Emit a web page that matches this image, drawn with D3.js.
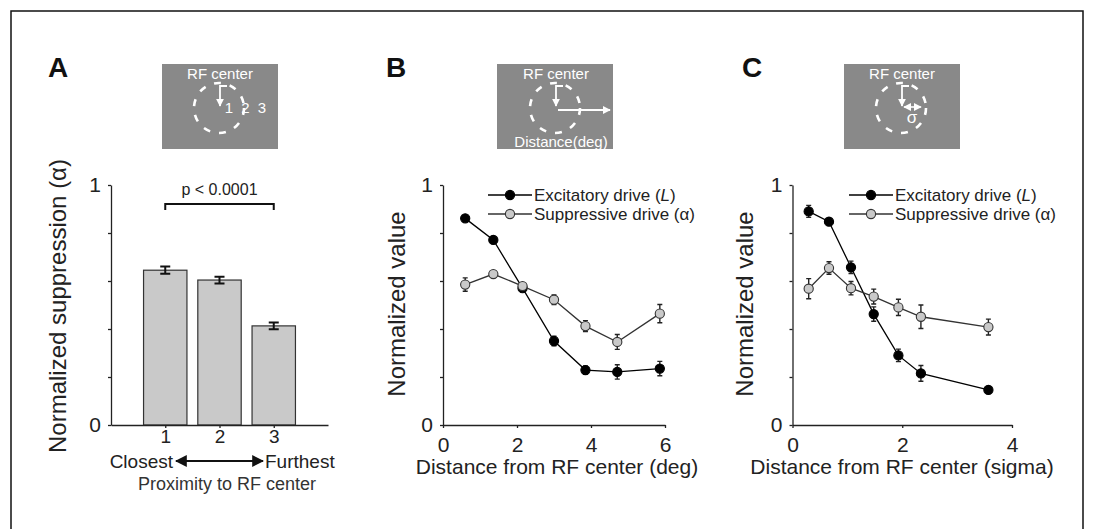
<html lang="en">
  <head>
    <meta charset="UTF-8" />
    <title>Surround suppression</title>
    <script src="https://d3js.org/d3.v7.min.js"></script>
  </head>
  <body>
    <style>
      body {
        margin: 0;
        padding: 0;
        background: #ffffff;
        font-family: "Liberation Sans", Arial, Helvetica, sans-serif;
      }
      svg {
        display: block;
      }
      .axis path,
      .axis line {
        stroke: #222;
        stroke-width: 1.3;
      }
      .axis text {
        font-family: "Liberation Sans", Arial, sans-serif;
        font-size: 21px;
        fill: #222;
      }
      .axis.small text {
        font-size: 19px;
      }
    </style>
    <script>
      const w = 1098;
      const h = 529;

      // panel A: bars
      const barCats = [1, 2, 3];
      const barVals = [0.645, 0.604, 0.413];
      const barErr = [0.015, 0.014, 0.014];

      // panel B: distance in degrees
      const distDeg = [0.6, 1.36, 2.15, 3.0, 3.85, 4.71, 5.86];
      const excDeg = [0.861, 0.771, 0.57, 0.35, 0.229, 0.221, 0.235];
      const excDegErr = [0.012, 0.01, 0.01, 0.02, 0.017, 0.03, 0.03];
      const supDeg = [0.585, 0.629, 0.579, 0.522, 0.412, 0.346, 0.464];
      const supDegErr = [0.028, 0.013, 0.013, 0.02, 0.023, 0.031, 0.038];

      // panel C: distance in sigma
      const distSig = [0.295, 0.665, 1.066, 1.48, 1.93, 2.34, 3.57];
      const excSig = [0.89, 0.847, 0.657, 0.462, 0.29, 0.215, 0.146];
      const excSigErr = [0.025, 0.012, 0.026, 0.03, 0.026, 0.033, 0.013];
      const supSig = [0.568, 0.654, 0.57, 0.535, 0.49, 0.451, 0.408];
      const supSigErr = [0.042, 0.026, 0.028, 0.031, 0.034, 0.049, 0.033];

      const yTicks = [0, 0.2, 0.4, 0.6, 0.8, 1];

      const svg = d3
        .select("body")
        .append("svg")
        .attr("width", w)
        .attr("height", h);

      const defs = svg.append("defs");
      const addMarker = (id, color, size) => {
        defs
          .append("marker")
          .attr("id", id)
          .attr("viewBox", "0 0 10 10")
          .attr("refX", 9)
          .attr("refY", 5)
          .attr("markerUnits", "userSpaceOnUse")
          .attr("markerWidth", size)
          .attr("markerHeight", size)
          .attr("orient", "auto-start-reverse")
          .append("path")
          .attr("d", "M0,0 L10,5 L0,10 z")
          .attr("fill", color);
      };
      addMarker("arrowBlack", "#111", 12);
      addMarker("arrowWhite", "#fff", 8);

      // frame
      svg
        .append("path")
        .attr("d", `M11,${h + 5} V11 H1083 V${h + 5}`)
        .attr("fill", "none")
        .attr("stroke", "#111")
        .attr("stroke-width", 1.5);

      const yScale = d3.scaleLinear().domain([0, 1]).range([425, 185]);

      const drawYAxis = (x0) => {
        svg
          .append("g")
          .attr("class", "axis")
          .attr("transform", `translate(${x0},0)`)
          .call(
            d3
              .axisLeft(yScale)
              .tickValues(yTicks)
              .tickSize(3)
              .tickSizeOuter(0)
              .tickPadding(7)
              .tickFormat((d) => (d === 0 || d === 1 ? d3.format("d")(d) : ""))
          );
      };

      const drawXAxis = (xScale, ticks, pad, cls) => {
        svg
          .append("g")
          .attr("class", "axis " + (cls || ""))
          .attr("transform", `translate(0,${yScale(0)})`)
          .call(
            d3
              .axisBottom(xScale)
              .tickValues(ticks)
              .tickSize(3)
              .tickSizeOuter(0)
              .tickPadding(pad)
              .tickFormat(d3.format("d"))
          );
      };

      const panelLabel = (txt, x) => {
        svg
          .append("text")
          .attr("x", x)
          .attr("y", 77)
          .attr("font-size", 28)
          .attr("font-weight", "bold")
          .attr("fill", "#111")
          .text(txt);
      };

      const yLabel = (txt, cx, cy) => {
        svg
          .append("text")
          .attr("transform", `translate(${cx},${cy}) rotate(-90)`)
          .attr("text-anchor", "middle")
          .attr("dy", "0.35em")
          .attr("font-size", 24)
          .attr("fill", "#222")
          .text(txt);
      };

      const xLabel = (txt, cx, y) => {
        svg
          .append("text")
          .attr("x", cx)
          .attr("y", y)
          .attr("text-anchor", "middle")
          .attr("font-size", 21)
          .attr("fill", "#222")
          .text(txt);
      };

      // inset stimulus cartoon
      const inset = (x, cx, extra) => {
        const g = svg.append("g");
        g.append("rect")
          .attr("x", x)
          .attr("y", 64)
          .attr("width", 116)
          .attr("height", 85)
          .attr("fill", "#898989");
        g.append("circle")
          .attr("cx", cx)
          .attr("cy", 108)
          .attr("r", 25)
          .attr("fill", "none")
          .attr("stroke", "#fff")
          .attr("stroke-width", 2.6)
          .attr("stroke-dasharray", "7 9");
        g.append("text")
          .attr("x", cx + 1)
          .attr("y", 79)
          .attr("text-anchor", "middle")
          .attr("font-size", 15)
          .attr("fill", "#fff")
          .text("RF center");
        g.append("path")
          .attr("d", `M${cx + 8},86 H${cx + 1} V106`)
          .attr("fill", "none")
          .attr("stroke", "#fff")
          .attr("stroke-width", 1.8)
          .attr("marker-end", "url(#arrowWhite)");
        extra(g);
      };

      // ---------- panel A ----------
      const xA = d3.scaleLinear().domain([0, 4]).range([111, 328]);
      panelLabel("A", 48);
      inset(162, 219, (g) => {
        ["1", "2", "3"].forEach((t, i) => {
          g.append("text")
            .attr("x", 229 + i * 16.5)
            .attr("y", 113)
            .attr("text-anchor", "middle")
            .attr("font-size", 15)
            .attr("fill", "#fff")
            .text(t);
        });
      });

      const barW = xA(0.8) - xA(0);
      svg
        .append("g")
        .selectAll("rect")
        .data(barCats)
        .join("rect")
        .attr("x", (d) => xA(d) - barW / 2)
        .attr("y", (d, i) => yScale(barVals[i]))
        .attr("width", barW)
        .attr("height", (d, i) => yScale(0) - yScale(barVals[i]))
        .attr("fill", "#c9c9c9")
        .attr("stroke", "#333")
        .attr("stroke-width", 1.2);

      const errA = svg.append("g").attr("stroke", "#111").attr("stroke-width", 2);
      barCats.forEach((c, i) => {
        const x = xA(c);
        const y1 = yScale(barVals[i] - barErr[i]);
        const y2 = yScale(barVals[i] + barErr[i]);
        errA.append("path").attr("d", `M${x},${y1} V${y2} M${x - 5},${y1} H${x + 5} M${x - 5},${y2} H${x + 5}`);
      });

      drawYAxis(xA(0));
      drawXAxis(xA, barCats, 2, "small");

      // significance bracket
      svg
        .append("path")
        .attr("d", `M${xA(1)},210 V204 H${xA(3)} V210`)
        .attr("fill", "none")
        .attr("stroke", "#111")
        .attr("stroke-width", 2);
      svg
        .append("text")
        .attr("x", xA(2))
        .attr("y", 195)
        .attr("text-anchor", "middle")
        .attr("font-size", 16)
        .attr("fill", "#222")
        .text("p < 0.0001");

      svg
        .append("text")
        .attr("x", 173)
        .attr("y", 468)
        .attr("text-anchor", "end")
        .attr("font-size", 19)
        .attr("fill", "#222")
        .text("Closest");
      svg
        .append("text")
        .attr("x", 265)
        .attr("y", 468)
        .attr("font-size", 19)
        .attr("fill", "#222")
        .text("Furthest");
      svg
        .append("line")
        .attr("x1", 176)
        .attr("x2", 263)
        .attr("y1", 461)
        .attr("y2", 461)
        .attr("stroke", "#111")
        .attr("stroke-width", 2)
        .attr("marker-start", "url(#arrowBlack)")
        .attr("marker-end", "url(#arrowBlack)");
      svg
        .append("text")
        .attr("x", 227)
        .attr("y", 490)
        .attr("text-anchor", "middle")
        .attr("font-size", 18)
        .attr("fill", "#333")
        .text("Proximity to RF center");

      yLabel("Normalized suppression (\u03b1)", 58, 306);

      // ---------- line panels ----------
      const drawSeries = (xScale, xs, ys, errs, fill, stroke) => {
        const g = svg.append("g");
        const line = d3
          .line()
          .x((d, i) => xScale(xs[i]))
          .y((d) => yScale(d));
        g.append("path")
          .attr("d", line(ys))
          .attr("fill", "none")
          .attr("stroke", stroke)
          .attr("stroke-width", 1.3);
        ys.forEach((v, i) => {
          const x = xScale(xs[i]);
          const y1 = yScale(v - errs[i]);
          const y2 = yScale(v + errs[i]);
          g.append("path")
            .attr("d", `M${x},${y1} V${y2} M${x - 2.5},${y1} H${x + 2.5} M${x - 2.5},${y2} H${x + 2.5}`)
            .attr("stroke", "#222")
            .attr("stroke-width", 1.4);
        });
        g.selectAll("circle")
          .data(ys)
          .join("circle")
          .attr("cx", (d, i) => xScale(xs[i]))
          .attr("cy", (d) => yScale(d))
          .attr("r", 4.6)
          .attr("fill", fill)
          .attr("stroke", stroke)
          .attr("stroke-width", 1.1);
      };

      const legend = (x0) => {
        const items = [
          { fill: "#000", stroke: "#000", y: 195, label: "Excitatory drive (", it: "L", end: ")" },
          { fill: "#c9c9c9", stroke: "#333", y: 214, label: "Suppressive drive (\u03b1)", it: "", end: "" },
        ];
        items.forEach((it) => {
          svg
            .append("line")
            .attr("x1", x0)
            .attr("x2", x0 + 44)
            .attr("y1", it.y)
            .attr("y2", it.y)
            .attr("stroke", it.stroke)
            .attr("stroke-width", 1.3);
          svg
            .append("circle")
            .attr("cx", x0 + 22)
            .attr("cy", it.y)
            .attr("r", 4.6)
            .attr("fill", it.fill)
            .attr("stroke", it.stroke)
            .attr("stroke-width", 1.1);
          const t = svg
            .append("text")
            .attr("x", x0 + 46)
            .attr("y", it.y + 6)
            .attr("font-size", 17)
            .attr("fill", "#222")
            .text(it.label);
          if (it.it) {
            t.append("tspan").attr("font-style", "italic").text(it.it);
            t.append("tspan").text(it.end);
          }
        });
      };

      // ---------- panel B ----------
      const xB = d3.scaleLinear().domain([0, 6]).range([443, 665]);
      panelLabel("B", 386);
      inset(497, 555, (g) => {
        g.append("path")
          .attr("d", "M558,110 H610")
          .attr("stroke", "#fff")
          .attr("stroke-width", 1.8)
          .attr("marker-end", "url(#arrowWhite)");
        g.append("text")
          .attr("x", 561)
          .attr("y", 147)
          .attr("text-anchor", "middle")
          .attr("font-size", 15)
          .attr("fill", "#fff")
          .text("Distance(deg)");
      });
      drawSeries(xB, distDeg, excDeg, excDegErr, "#000", "#000");
      drawSeries(xB, distDeg, supDeg, supDegErr, "#c9c9c9", "#333");
      drawYAxis(xB(0));
      drawXAxis(xB, [0, 2, 4, 6], 9);
      legend(488);
      yLabel("Normalized value", 397, 304);
      xLabel("Distance from RF center (deg)", 557, 474);

      // ---------- panel C ----------
      const xC = d3.scaleLinear().domain([0, 4]).range([792.5, 1012]);
      panelLabel("C", 742);
      inset(844, 901, (g) => {
        g.append("path")
          .attr("d", "M904,107 H921")
          .attr("stroke", "#fff")
          .attr("stroke-width", 1.6)
          .attr("marker-start", "url(#arrowWhite)")
          .attr("marker-end", "url(#arrowWhite)");
        g.append("text")
          .attr("x", 912)
          .attr("y", 123)
          .attr("text-anchor", "middle")
          .attr("font-size", 17)
          .attr("fill", "#fff")
          .text("\u03c3");
      });
      drawSeries(xC, distSig, excSig, excSigErr, "#000", "#000");
      drawSeries(xC, distSig, supSig, supSigErr, "#c9c9c9", "#333");
      drawYAxis(xC(0));
      drawXAxis(xC, [0, 2, 4], 9);
      legend(849);
      yLabel("Normalized value", 745, 304);
      xLabel("Distance from RF center (sigma)", 902, 474);
    </script>
  </body>
</html>
